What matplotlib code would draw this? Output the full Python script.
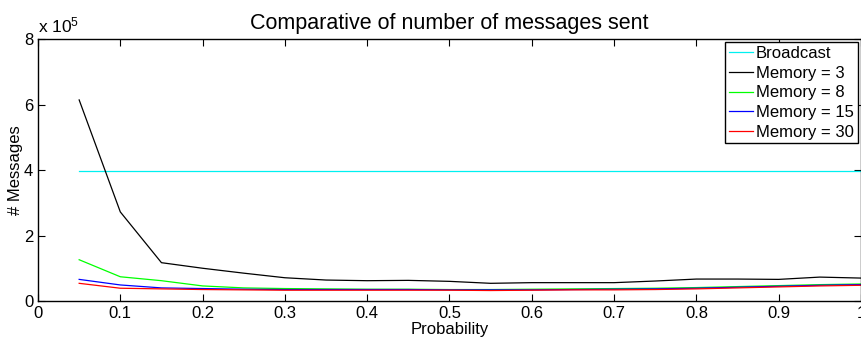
import matplotlib
matplotlib.use("Agg")
import matplotlib.pyplot as plt
from matplotlib.ticker import FuncFormatter

plt.rcParams['font.family'] = ['Liberation Sans', 'DejaVu Sans']
plt.rcParams['mathtext.fontset'] = 'custom'
plt.rcParams['mathtext.rm'] = 'Liberation Sans'
plt.rcParams['mathtext.it'] = 'Liberation Sans'

prob = [0.05, 0.10, 0.15, 0.20, 0.25, 0.30, 0.35, 0.40, 0.45, 0.50,
        0.55, 0.60, 0.65, 0.70, 0.75, 0.80, 0.85, 0.90, 0.95, 1.00]
broadcast = [3.97e5] * 20
mem3 = [6.14e5, 2.72e5, 1.17e5, 1.00e5, 0.85e5, 0.71e5, 0.64e5, 0.62e5, 0.63e5, 0.60e5,
        0.54e5, 0.56e5, 0.56e5, 0.56e5, 0.61e5, 0.67e5, 0.67e5, 0.66e5, 0.73e5, 0.70e5]
mem8 = [1.26e5, 0.74e5, 0.62e5, 0.46e5, 0.40e5, 0.38e5, 0.37e5, 0.36e5, 0.36e5, 0.35e5,
        0.35e5, 0.36e5, 0.37e5, 0.38e5, 0.39e5, 0.41e5, 0.44e5, 0.47e5, 0.50e5, 0.52e5]
mem15 = [0.66e5, 0.49e5, 0.40e5, 0.38e5, 0.36e5, 0.35e5, 0.35e5, 0.35e5, 0.35e5, 0.34e5,
         0.34e5, 0.34e5, 0.35e5, 0.36e5, 0.37e5, 0.39e5, 0.42e5, 0.45e5, 0.48e5, 0.50e5]
mem30 = [0.54e5, 0.39e5, 0.37e5, 0.35e5, 0.34e5, 0.33e5, 0.33e5, 0.33e5, 0.33e5, 0.33e5,
         0.32e5, 0.33e5, 0.34e5, 0.34e5, 0.35e5, 0.37e5, 0.40e5, 0.43e5, 0.46e5, 0.48e5]

xticks = [0, 0.1, 0.2, 0.3, 0.4, 0.5, 0.6, 0.7, 0.8, 0.9, 1]
xticklabels = ['0', '0.1', '0.2', '0.3', '0.4', '0.5', '0.6', '0.7', '0.8', '0.9', '1']
yticks = [0, 2e5, 4e5, 6e5, 8e5]

fig = plt.figure(figsize=(8.62, 3.41), dpi=100)
ax = fig.add_axes([0.0441, 0.1173, 0.9547, 0.7683])

lw = 0.9
ax.plot(prob, broadcast, color='#00f0f0', lw=lw, label='Broadcast')
ax.plot(prob, mem3, color='black', lw=lw, label='Memory = 3')
ax.plot(prob, mem8, color='#00ff00', lw=lw, label='Memory = 8')
ax.plot(prob, mem15, color='#0000ff', lw=lw, label='Memory = 15')
ax.plot(prob, mem30, color='#ff0000', lw=lw, label='Memory = 30')

ax.set_xlim(0, 1)
ax.set_ylim(0, 8e5)
ax.set_xticks(xticks)
ax.set_xticklabels(xticklabels)
ax.set_yticks(yticks)
ax.yaxis.set_major_formatter(FuncFormatter(lambda v, p: f"{v/1e5:g}"))
ax.tick_params(direction='in', top=True, right=True, labelsize=12, length=5, width=0.8, pad=3.5)
for s in ax.spines.values():
    s.set_linewidth(1.0)

ax.set_title('Comparative of number of messages sent', fontsize=15.5, pad=7)
ax.set_xlabel('Probability', fontsize=12, labelpad=1)
ax.set_ylabel('# Messages', fontsize=12, labelpad=0.5)
ax.text(0.0, 1.012, r'x 10$^5$', transform=ax.transAxes, fontsize=12.5, ha='left', va='bottom')

leg = ax.legend(loc='upper right', fontsize=12, frameon=True, fancybox=False,
                edgecolor='black', framealpha=1, borderpad=0.22, labelspacing=0.28,
                handlelength=1.45, handletextpad=0.2, borderaxespad=0.2)
leg.get_frame().set_linewidth(1.0)

fig.savefig('out.png', dpi=100)
